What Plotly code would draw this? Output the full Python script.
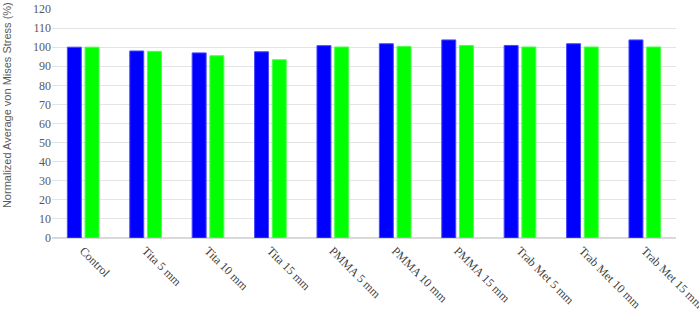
import plotly.graph_objects as go

categories = ["Control", "Tita 5 mm", "Tita 10 mm", "Tita 15 mm", "PMMA 5 mm",
              "PMMA 10 mm", "PMMA 15 mm", "Trab Met 5 mm", "Trab Met 10 mm", "Trab Met 15 mm"]
series_blue = [100.0, 98.0, 97.0, 97.6, 100.8, 101.8, 103.8, 100.9, 101.8, 103.8]
series_green = [100.0, 97.8, 95.5, 93.4, 100.1, 100.4, 100.9, 100.1, 100.1, 100.1]
y_ticks = list(range(0, 121, 10))

fig = go.Figure()
fig.add_trace(go.Bar(x=categories, y=series_blue, name="A",
                     marker=dict(color="#0000FF", line=dict(color="#4a4aff", width=1))))
fig.add_trace(go.Bar(x=categories, y=series_green, name="B",
                     marker=dict(color="#00FF00", line=dict(color="#4dff4d", width=1))))

fig.update_layout(
    width=699, height=312,
    margin=dict(l=52, r=23, t=9, b=74),
    paper_bgcolor="white", plot_bgcolor="white",
    showlegend=False,
    bargap=0.433, bargroupgap=0.21,
    xaxis=dict(tickangle=45, showgrid=False, showline=True, linecolor="#d9d9d9",
               automargin=False,
               tickfont=dict(family="Liberation Serif", size=12, color="#404040"),
               ticks=""),
    yaxis=dict(range=[0, 120], tickvals=y_ticks, showgrid=True, gridcolor="#e3e3e3",
               automargin=False,
               gridwidth=1, zeroline=True, zerolinecolor="#d9d9d9",
               tickfont=dict(family="Liberation Serif", size=12, color="#595959"),
               ticks=""),
    annotations=[dict(text="Normalized Average von Mises Stress (%)", textangle=-90,
                      xref="paper", yref="paper", x=-0.0721, y=0.122,
                      xanchor="center", yanchor="bottom", showarrow=False,
                      font=dict(family="Liberation Sans", size=11, color="#595959"))],
)

fig.write_html("out.html")
